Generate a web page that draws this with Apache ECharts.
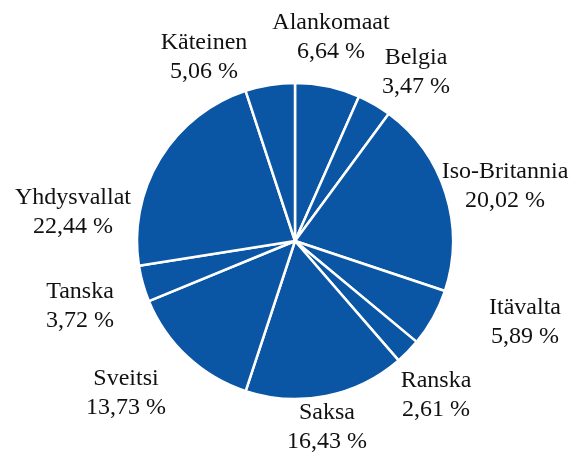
<!DOCTYPE html>
<html>
<head>
<meta charset="utf-8">
<script src="https://cdn.jsdelivr.net/npm/echarts@6/dist/echarts.min.js"></script>
<style>
html,body{margin:0;padding:0;background:#fff;}
#chart{width:580px;height:452px;}
</style>
</head>
<body>
<div id="chart"></div>
<script>
// ---- Data ----
const categories = ['Alankomaat','Belgia','Iso-Britannia','Itävalta','Ranska','Saksa','Sveitsi','Tanska','Yhdysvallat','Käteinen'];
const shares = [6.64, 3.47, 20.02, 5.89, 2.61, 16.43, 13.73, 3.72, 22.44, 5.06];

// ---- Layout (label centres relative to the pie centre, tuned like the original) ----
const CX = 295, CY = 241, R = 158;
const LABEL_DX = [36, 121, 210, 230, 141, 32, -169, -215, -222, -91];
const LABEL_DY = [-204, -169, -55, 81, 154, 186, 152, 65, -29, -184];

const chart = echarts.init(document.getElementById('chart'), null, {renderer:'canvas'});
const fmt = v => v.toFixed(2).replace('.', ',') + ' %';

chart.setOption({
  animation: false,
  backgroundColor: '#ffffff',
  series: [{
    type: 'pie',
    center: [CX, CY],
    radius: [0, R],
    startAngle: 90,
    clockwise: true,
    avoidLabelOverlap: false,
    itemStyle: { color: '#0b55a5', borderColor: '#ffffff', borderWidth: 2.5 },
    emphasis: { disabled: true },
    label: {
      show: true,
      position: 'outside',
      formatter: p => p.name + '\n' + fmt(p.value),
      fontFamily: 'Liberation Serif',
      fontSize: 24,
      lineHeight: 29,
      color: '#111111',
      align: 'center'
    },
    labelLine: { show: false },
    labelLayout: function (p) {
      const i = p.dataIndex;
      return { x: CX + LABEL_DX[i], y: CY + LABEL_DY[i], align: 'center', verticalAlign: 'middle' };
    },
    data: categories.map((c, i) => ({ name: c, value: shares[i] }))
  }]
});
</script>
</body>
</html>
